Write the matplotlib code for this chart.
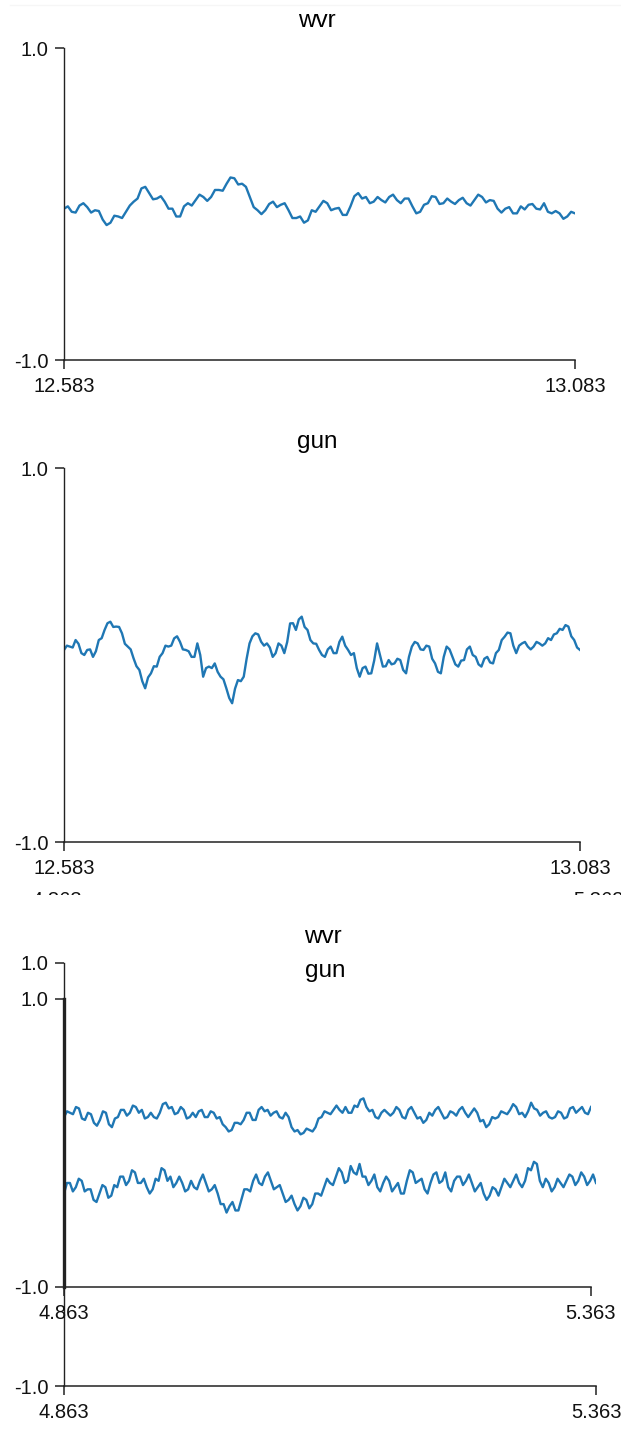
import numpy as np
import matplotlib
matplotlib.use("Agg")
import matplotlib.pyplot as plt
from matplotlib.transforms import Bbox

plt.rcParams["font.family"] = ["Liberation Sans", "DejaVu Sans"]
plt.rcParams["axes.unicode_minus"] = False

W, H = 621, 1438

# ---------------- data ----------------
range_a = [12.583, 13.083]
range_b = [4.863, 5.363]
y_range = [-1.0, 1.0]

wvr_a = [-0.03, -0.015, -0.05, -0.055, -0.01, 0.005, -0.02, -0.055, -0.04, -0.045, -0.10, -0.135,
         -0.12, -0.075, -0.08, -0.09, -0.05, -0.01, 0.015, 0.035, 0.10, 0.11, 0.07, 0.03, 0.035,
         0.05, 0.015, -0.03, -0.03, -0.08, -0.08, -0.015, 0.005, -0.01, 0.025, 0.06, 0.045, 0.02,
         0.045, 0.09, 0.09, 0.085, 0.13, 0.17, 0.165, 0.125, 0.13, 0.11, 0.045, -0.02, -0.04,
         -0.065, -0.04, 0.0, 0.015, -0.02, -0.005, 0.005, -0.04, -0.09, -0.09, -0.08, -0.12, -0.105,
         -0.04, -0.05, -0.015, 0.02, 0.005, -0.04, -0.03, -0.025, -0.07, -0.07, -0.015, 0.05, 0.07,
         0.035, 0.045, 0.005, 0.015, 0.045, 0.025, 0.01, 0.045, 0.06, 0.025, 0.005, 0.035, 0.035,
         -0.015, -0.06, -0.05, -0.005, 0.005, 0.05, 0.045, 0.0, 0.005, 0.035, 0.015, 0.0, 0.025,
         0.04, 0.005, -0.01, 0.025, 0.06, 0.045, 0.01, 0.025, 0.02, -0.03, -0.055, -0.03, -0.02,
         -0.06, -0.06, -0.015, -0.035, -0.005, 0.0, -0.03, -0.035, 0.005, -0.05, -0.06, -0.045,
         -0.06, -0.095, -0.08, -0.05, -0.06]

gun_a = [0.027, 0.05, 0.045, 0.04, 0.08, 0.06, 0.01, 0.0, 0.027, 0.03, -0.01, 0.02, 0.08, 0.09,
         0.134, 0.17, 0.178, 0.15, 0.152, 0.15, 0.116, 0.06, 0.045, 0.03, -0.018, -0.06, -0.08,
         -0.14, -0.178, -0.12, -0.098, -0.06, -0.062, -0.01, 0.01, 0.05, 0.045, 0.05, 0.089, 0.10,
         0.071, 0.03, 0.027, 0.02, -0.01, -0.01, 0.062, 0.0, -0.116, -0.07, -0.062, -0.07, -0.045,
         -0.09, -0.116, -0.13, -0.178, -0.23, -0.258, -0.18, -0.134, -0.14, -0.116, -0.02, 0.062,
         0.10, 0.116, 0.11, 0.071, 0.05, 0.062, 0.04, -0.01, 0.01, 0.062, 0.05, 0.01, 0.07, 0.169,
         0.17, 0.134, 0.19, 0.205, 0.15, 0.134, 0.08, 0.062, 0.06, 0.027, 0.0, -0.01, 0.03, 0.045,
         0.01, 0.01, 0.07, 0.098, 0.05, 0.027, 0.0, 0.01, -0.07, -0.116, -0.07, -0.062, -0.10,
         -0.098, -0.03, 0.062, 0.0, -0.062, -0.06, -0.027, -0.05, -0.045, -0.02, -0.027, -0.08,
         -0.098, -0.01, 0.045, 0.07, 0.062, 0.03, 0.027, 0.05, 0.045, -0.02, -0.045, -0.09, -0.098,
         -0.01, 0.045, 0.03, -0.01, -0.05, -0.062, -0.03, -0.027, 0.03, 0.045, 0.0, -0.01, -0.05,
         -0.062, -0.02, -0.01, -0.04, -0.045, 0.01, 0.027, 0.08, 0.098, 0.12, 0.116, 0.05, 0.01,
         0.05, 0.062, 0.07, 0.045, 0.03, 0.045, 0.07, 0.062, 0.05, 0.062, 0.09, 0.08, 0.11, 0.116,
         0.14, 0.134, 0.16, 0.152, 0.10, 0.08, 0.04, 0.027]

gun_b = [0.18, 0.22, 0.21, 0.20, 0.25, 0.24, 0.17, 0.16, 0.21, 0.20, 0.14, 0.12, 0.16, 0.22, 0.21,
         0.13, 0.11, 0.17, 0.18, 0.23, 0.23, 0.19, 0.21, 0.26, 0.25, 0.21, 0.23, 0.17, 0.18, 0.21,
         0.18, 0.17, 0.21, 0.27, 0.28, 0.24, 0.25, 0.20, 0.21, 0.25, 0.23, 0.17, 0.18, 0.21, 0.18,
         0.22, 0.23, 0.18, 0.18, 0.22, 0.21, 0.17, 0.18, 0.13, 0.11, 0.08, 0.09, 0.14, 0.14, 0.13,
         0.16, 0.21, 0.21, 0.16, 0.16, 0.23, 0.25, 0.22, 0.23, 0.19, 0.21, 0.22, 0.18, 0.17, 0.21,
         0.18, 0.11, 0.08, 0.09, 0.06, 0.07, 0.10, 0.09, 0.08, 0.11, 0.17, 0.18, 0.22, 0.21, 0.20,
         0.23, 0.26, 0.23, 0.21, 0.25, 0.21, 0.21, 0.26, 0.25, 0.30, 0.31, 0.25, 0.22, 0.23, 0.18,
         0.17, 0.21, 0.23, 0.21, 0.19, 0.21, 0.25, 0.23, 0.18, 0.17, 0.23, 0.25, 0.21, 0.17, 0.18,
         0.14, 0.16, 0.21, 0.19, 0.23, 0.25, 0.21, 0.17, 0.18, 0.22, 0.21, 0.19, 0.23, 0.25, 0.21,
         0.18, 0.21, 0.24, 0.21, 0.15, 0.16, 0.11, 0.13, 0.18, 0.17, 0.18, 0.22, 0.21, 0.20, 0.23,
         0.27, 0.25, 0.20, 0.21, 0.18, 0.22, 0.28, 0.24, 0.23, 0.19, 0.21, 0.22, 0.18, 0.17, 0.18,
         0.22, 0.21, 0.17, 0.18, 0.24, 0.25, 0.21, 0.23, 0.25, 0.21, 0.20, 0.25]

wvr_b = [-0.09, -0.04, -0.04, -0.08, -0.06, -0.02, -0.03, -0.08, -0.07, -0.07, -0.12, -0.13, -0.09,
         -0.05, -0.06, -0.11, -0.10, -0.05, -0.06, -0.01, -0.01, -0.05, -0.03, 0.02, 0.01, -0.04,
         -0.04, -0.02, -0.06, -0.09, -0.07, -0.02, -0.03, 0.03, 0.02, -0.03, -0.01, -0.06, -0.04,
         -0.01, -0.04, -0.08, -0.07, -0.03, -0.06, -0.07, -0.03, 0.00, -0.04, -0.08, -0.07, -0.05,
         -0.09, -0.14, -0.14, -0.18, -0.15, -0.13, -0.17, -0.17, -0.12, -0.07, -0.07, -0.08, -0.03,
         0.00, -0.04, -0.05, -0.01, 0.01, -0.03, -0.07, -0.06, -0.05, -0.09, -0.13, -0.12, -0.10,
         -0.14, -0.17, -0.15, -0.11, -0.12, -0.16, -0.14, -0.09, -0.09, -0.10, -0.06, -0.02, -0.04,
         -0.05, -0.01, 0.03, 0.01, -0.04, -0.03, 0.04, 0.01, 0.00, 0.05, -0.01, -0.01, -0.05, -0.03,
         0.00, -0.06, -0.08, -0.04, -0.01, -0.03, -0.08, -0.06, -0.04, -0.09, -0.09, -0.03, 0.02,
         0.01, -0.04, -0.03, -0.02, -0.07, -0.09, -0.04, 0.00, 0.01, -0.04, -0.03, 0.01, -0.06,
         -0.08, -0.03, -0.01, -0.01, -0.05, -0.03, 0.00, -0.04, -0.08, -0.06, -0.04, -0.09, -0.12,
         -0.10, -0.06, -0.07, -0.10, -0.06, -0.02, -0.04, -0.06, -0.03, 0.00, -0.04, -0.06, -0.03,
         0.03, 0.02, 0.06, 0.05, -0.03, -0.06, -0.02, -0.04, -0.08, -0.06, -0.02, -0.04, -0.06,
         -0.03, 0.00, -0.01, -0.05, -0.03, 0.01, -0.01, -0.05, -0.03, 0.00, -0.04]

LINE = "#1f77b4"
AXC = "#222222"
TICK_FS = 14.5
TITLE_FS = 17.5


def px_axes(fig, x0, x1, y0, y1):
    # pixel box (top-left origin) -> figure fraction
    return fig.add_axes([x0 / W, 1 - y1 / H, (x1 - x0) / W, (y1 - y0) / H])


def style(ax, xr, spine_lw=1.0):
    ax.set_xlim(xr)
    ax.set_ylim(y_range)
    ax.set_xticks(xr)
    ax.set_xticklabels([f"{v:.3f}" for v in xr])
    ax.set_yticks(y_range)
    ax.set_yticklabels([f"{v:.1f}" for v in y_range])
    for s in ["top", "right"]:
        ax.spines[s].set_visible(False)
    for s in ["left", "bottom"]:
        ax.spines[s].set_color(AXC)
        ax.spines[s].set_linewidth(1.1)
    ax.spines["left"].set_linewidth(spine_lw)
    ax.tick_params(length=6.5, width=1.1, color=AXC, labelsize=TICK_FS, labelcolor="#111111")
    ax.tick_params(axis="x", pad=5.5)
    ax.tick_params(axis="y", pad=4.5)
    ax.patch.set_alpha(0)


def draw(ax, xr, vals):
    t = np.linspace(xr[0], xr[1], len(vals))
    ax.plot(t, vals, color=LINE, lw=1.7, solid_joinstyle="round")


fig = plt.figure(figsize=(W / 100, H / 100), dpi=100)

# faint top border
fig.add_artist(plt.Line2D([10 / W, 1], [1 - 5 / H, 1 - 5 / H], color="#f6f6f6", lw=1))

ax1 = px_axes(fig, 64, 575, 48, 360)
style(ax1, range_a)
draw(ax1, range_a, wvr_a)
fig.text(317 / W, 1 - 21 / H, "wvr", ha="center", va="center", fontsize=TITLE_FS)

ax2 = px_axes(fig, 64, 580, 468, 842)
style(ax2, range_a)
draw(ax2, range_a, gun_a)
fig.text(317 / W, 1 - 442 / H, "gun", ha="center", va="center", fontsize=TITLE_FS)

# clipped remnants of hidden tick labels
clip = Bbox.from_extents(0, H - 895, W, H - 891)
for x, s in [(57, "4.863"), (598, "5.363")]:
    t = fig.text(x / W, 1 - 891 / H, s, ha="center", va="top", fontsize=TICK_FS, color="#111111")
    t.set_clip_box(clip)
    t.set_clip_on(True)

ax3 = px_axes(fig, 64, 596, 963, 1386)
style(ax3, range_b)
draw(ax3, range_b, wvr_b)
fig.text(323 / W, 1 - 937 / H, "wvr", ha="center", va="center", fontsize=TITLE_FS)

ax4 = px_axes(fig, 64, 591, 999, 1287)
style(ax4, range_b, spine_lw=2.4)
draw(ax4, range_b, gun_b)
fig.text(325 / W, 1 - 971 / H, "gun", ha="center", va="center", fontsize=TITLE_FS)

fig.savefig("out.png", dpi=100)
